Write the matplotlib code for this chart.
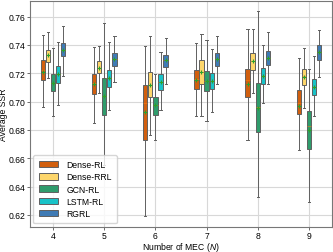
import numpy as np
import matplotlib.pyplot as plt
from matplotlib.patches import Patch

mec = [4, 5, 6, 7, 8, 9]
methods = ['Dense-RL', 'Dense-RRL', 'GCN-RL', 'LSTM-RL', 'RGRL']
colors = ['#d15f0e', '#fdd66b', '#2f9c6c', '#19c3c8', '#3f7bb5']

# per method: rows = MEC 4..9, cols = (whislo, q1, med, mean, q3, whishi)
dense_rl = [
    [0.6959, 0.7155, 0.7220, 0.7212, 0.7293, 0.7471],
    [0.6850, 0.7056, 0.7130, 0.7127, 0.7196, 0.7383],
    [0.6195, 0.6728, 0.6990, 0.6926, 0.7118, 0.7395],
    [0.6901, 0.7092, 0.7160, 0.7155, 0.7224, 0.7415],
    [0.6728, 0.7030, 0.7150, 0.7125, 0.7233, 0.7512],
    [0.6661, 0.6910, 0.6990, 0.6966, 0.7079, 0.7307],
]
dense_rrl = [
    [0.7164, 0.7282, 0.7330, 0.7328, 0.7367, 0.7494],
    [0.7063, 0.7199, 0.7240, 0.7240, 0.7286, 0.7395],
    [0.6767, 0.7030, 0.7120, 0.7120, 0.7208, 0.7466],
    [0.6896, 0.7127, 0.7210, 0.7208, 0.7293, 0.7475],
    [0.7058, 0.7226, 0.7290, 0.7289, 0.7342, 0.7510],
    [0.6956, 0.7120, 0.7180, 0.7176, 0.7231, 0.7376],
]
gcn_rl = [
    [0.6901, 0.7072, 0.7135, 0.7132, 0.7196, 0.7379],
    [0.6550, 0.6908, 0.7040, 0.7037, 0.7169, 0.7556],
    [0.6726, 0.6908, 0.6975, 0.6975, 0.7033, 0.7196],
    [0.6862, 0.7072, 0.7145, 0.7145, 0.7219, 0.7432],
    [0.6324, 0.6788, 0.6960, 0.6956, 0.7132, 0.7639],
    [0.6290, 0.6668, 0.6825, 0.6802, 0.6933, 0.7233],
]
lstm_rl = [
    [0.6975, 0.7132, 0.7196, 0.7196, 0.7252, 0.7422],
    [0.6938, 0.7102, 0.7165, 0.7164, 0.7222, 0.7422],
    [0.6938, 0.7083, 0.7141, 0.7141, 0.7192, 0.7349],
    [0.6929, 0.7090, 0.7145, 0.7145, 0.7201, 0.7369],
    [0.6989, 0.7125, 0.7180, 0.7180, 0.7238, 0.7400],
    [0.6901, 0.7046, 0.7106, 0.7106, 0.7162, 0.7321],
]
rgrl = [
    [0.7182, 0.7319, 0.7365, 0.7365, 0.7411, 0.7531],
    [0.7141, 0.7252, 0.7300, 0.7300, 0.7342, 0.7466],
    [0.7127, 0.7245, 0.7291, 0.7291, 0.7330, 0.7452],
    [0.7127, 0.7252, 0.7298, 0.7298, 0.7342, 0.7466],
    [0.7125, 0.7259, 0.7309, 0.7309, 0.7355, 0.7494],
    [0.7176, 0.7296, 0.7351, 0.7351, 0.7399, 0.7505],
]
all_data = [dense_rl, dense_rrl, gcn_rl, lstm_rl, rgrl]

plt.rcParams['font.family'] = ['Liberation Sans', 'DejaVu Sans']
plt.rcParams['mathtext.fontset'] = 'custom'
plt.rcParams['mathtext.it'] = 'Liberation Sans:italic'
fig = plt.figure(figsize=(3.33, 2.53), dpi=100)
ax = fig.add_axes([0.090, 0.100, 0.907, 0.894])

offsets = [-0.2, -0.1, 0.0, 0.1, 0.2]
for k, (data, col) in enumerate(zip(all_data, colors)):
    stats = []
    for row in data:
        lo, q1, med, mean, q3, hi = row
        stats.append(dict(whislo=lo, q1=q1, med=med, mean=mean, q3=q3, whishi=hi))
    pos = [m + offsets[k] for m in mec]
    ax.bxp(stats, positions=pos, widths=0.085, patch_artist=True, showmeans=True,
           showfliers=False, manage_ticks=False,
           boxprops=dict(facecolor=col, edgecolor='#606060', linewidth=0.7),
           whiskerprops=dict(color='#606060', linewidth=0.7),
           capprops=dict(color='#606060', linewidth=0.7),
           medianprops=dict(color='#ff7f0e', linewidth=0.6, alpha=0.6),
           meanprops=dict(marker='+', markeredgecolor='#2ca02c', markersize=3,
                          markeredgewidth=0.8),
           zorder=3)

ax.set_xlim(3.55, 9.45)
ax.set_ylim(0.6117, 0.7714)
ax.set_xticks(mec)
yt = [0.62, 0.64, 0.66, 0.68, 0.70, 0.72, 0.74, 0.76]
ax.set_yticks(yt)
ax.set_yticklabels(['%.2f' % v for v in yt])
ax.tick_params(labelsize=6.2, length=2, width=0.6, color='#555555', pad=1)
ax.grid(True, color='#d8d8d8', linewidth=0.8, zorder=0)
ax.set_axisbelow(True)
for s in ax.spines.values():
    s.set_color('#777777')
    s.set_linewidth(0.8)

ax.set_xlabel('Number of MEC ($N$)', fontsize=6.2, labelpad=0)
ax.set_ylabel('Average SSR', fontsize=6.2, labelpad=1)

handles = [Patch(facecolor=c, edgecolor='#606060', linewidth=0.7, label=m)
           for m, c in zip(methods, colors)]
ax.legend(handles=handles, loc='lower left', fontsize=6.2, handlelength=2.2,
          handleheight=0.8, labelspacing=0.38, borderpad=0.6, handletextpad=1.0,
          framealpha=0.8, edgecolor='#cccccc', borderaxespad=0.4)

fig.savefig('out.png', dpi=100)
